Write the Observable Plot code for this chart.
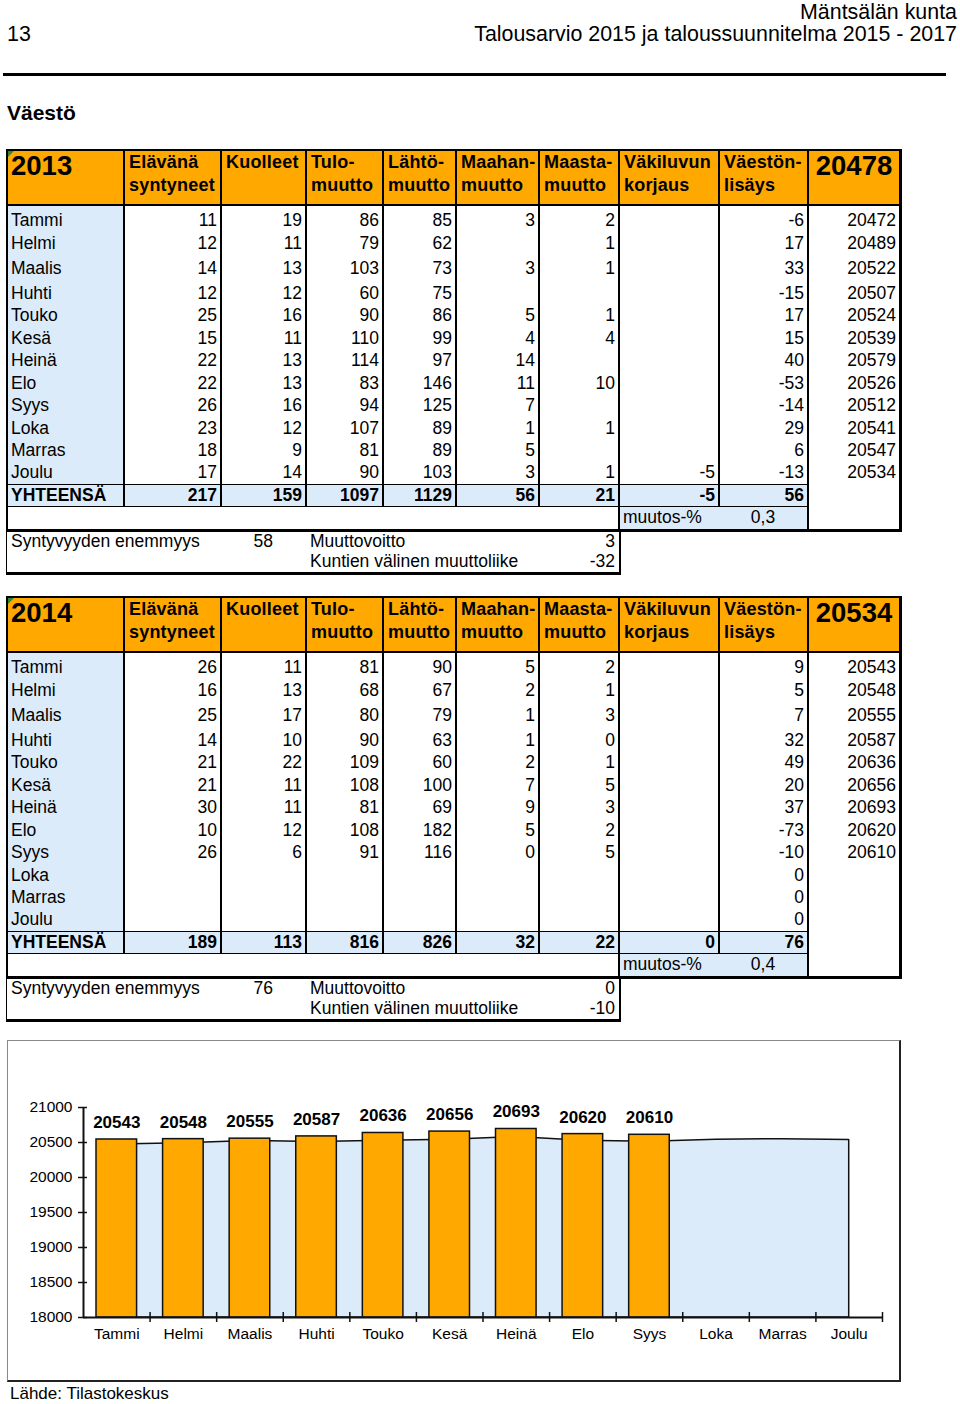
<!DOCTYPE html>
<html><head><meta charset="utf-8">
<script src="https://cdn.jsdelivr.net/npm/d3@7"></script>
<script src="https://cdn.jsdelivr.net/npm/@observablehq/plot@0.6"></script>
<style>
html,body{margin:0;padding:0;background:#fff;}
#page{position:relative;width:960px;height:1404px;overflow:hidden;font-family:"Liberation Sans",Arial,Helvetica,sans-serif;color:#000;}
.a{position:absolute;white-space:nowrap;}
</style></head>
<body><div id="page"></div>
<script>
// ---------- data ----------
const months = ["Tammi","Helmi","Maalis","Huhti","Touko","Kesä","Heinä","Elo","Syys","Loka","Marras","Joulu"];
const headers = [["Elävänä","syntyneet"],["Kuolleet"],["Tulo-","muutto"],["Lähtö-","muutto"],["Maahan-","muutto"],["Maasta-","muutto"],["Väkiluvun","korjaus"],["Väestön-","lisäys"]];

const births2013 = [11,12,14,12,25,15,22,22,26,23,18,17];
const deaths2013 = [19,11,13,12,16,11,13,13,16,12,9,14];
const inMig2013  = [86,79,103,60,90,110,114,83,94,107,81,90];
const outMig2013 = [85,62,73,75,86,99,97,146,125,89,89,103];
const immig2013  = [3,null,3,null,5,4,14,11,7,1,5,3];
const emig2013   = [2,1,1,null,1,4,null,10,null,1,null,1];
const corr2013   = [null,null,null,null,null,null,null,null,null,null,null,-5];
const growth2013 = [-6,17,33,-15,17,15,40,-53,-14,29,6,-13];
const pop2013    = [20472,20489,20522,20507,20524,20539,20579,20526,20512,20541,20547,20534];
const totals2013 = [217,159,1097,1129,56,21,-5,56];
const start2013 = 20478, change2013 = "0,3", natural2013 = 58, netMig2013 = 3, interMun2013 = -32;

const births2014 = [26,16,25,14,21,21,30,10,26];
const deaths2014 = [11,13,17,10,22,11,11,12,6];
const inMig2014  = [81,68,80,90,109,108,81,108,91];
const outMig2014 = [90,67,79,63,60,100,69,182,116];
const immig2014  = [5,2,1,1,2,7,9,5,0];
const emig2014   = [2,1,3,0,1,5,3,2,5];
const corr2014   = [];
const growth2014 = [9,5,7,32,49,20,37,-73,-10,0,0,0];
const pop2014    = [20543,20548,20555,20587,20636,20656,20693,20620,20610];
const totals2014 = [189,113,816,826,32,22,0,76];
const start2014 = 20534, change2014 = "0,4", natural2014 = 76, netMig2014 = 0, interMun2014 = -10;

const yTicks = [18000,18500,19000,19500,20000,20500,21000];

// ---------- helpers ----------
const page = document.getElementById("page");
function box(x, y, w, h, css) {
  const d = document.createElement("div");
  d.className = "a";
  d.style.cssText = `left:${x}px;top:${y}px;width:${w}px;height:${h}px;` + (css || "");
  page.appendChild(d); return d;
}
function txt(s, x, cy, opts = {}) {
  const fs = opts.size || 17.5;
  const d = document.createElement("div");
  d.className = "a";
  let css = `top:${cy - fs * 0.575}px;font-size:${fs}px;line-height:${fs * 1.15}px;`;
  if (opts.bold) css += "font-weight:bold;";
  if (opts.ls) css += `letter-spacing:${opts.ls}px;`;
  if (opts.align === "right") css += `right:${960 - x}px;text-align:right;`;
  else if (opts.align === "center") css += `left:${x - 100}px;width:200px;text-align:center;`;
  else css += `left:${x}px;`;
  d.style.cssText = css;
  d.textContent = s;
  page.appendChild(d); return d;
}
const ORANGE = "#ffa800", BLUE = "#dcebfa";

// ---------- page header ----------
txt("Mäntsälän kunta", 957, 12.5, {size: 21.4, align: "right"});
txt("13", 7, 34, {size: 21.4});
txt("Talousarvio 2015 ja taloussuunnitelma 2015 - 2017", 957, 34, {size: 21.4, align: "right"});
box(3, 73, 943, 3, "background:#000;");
txt("Väestö", 7, 113, {size: 21, bold: true});

// ---------- tables ----------
const X = [7,124,221,306,383,456,539,619,719,808,900];
const rowC = [70,93,118,143,165,188,210,233,255,278,300,322];

function table(y0, year, start, cols, totals, change, natural, netMig, interMun) {
  // backgrounds
  box(7, y0, 893, 55, `background:${ORANGE};`);
  box(7, y0 + 55, 117, 279, `background:${BLUE};`);
  box(7, y0 + 334, 801, 22, `background:${BLUE};`);
  box(619, y0 + 356, 189, 23, `background:${BLUE};`);
  // green comment marker
  box(8, y0 + 1, 0, 0, "border-top:6px solid #2e8b2e;border-right:6px solid transparent;");
  // lines
  for (let k = 1; k <= 8; k++) box(X[k] - 0.75, y0, 1.5, 356, "background:#000;");
  box(X[9] - 0.75, y0, 1.5, 379, "background:#000;");
  box(X[7] - 0.75, y0 + 356, 1.5, 23, "background:#000;");
  box(7, y0 + 54, 893, 2, "background:#000;");
  box(7, y0 + 333.5, 801, 1.5, "background:#000;");
  box(7, y0 + 355.5, 801, 1.5, "background:#000;");
  box(6, y0 - 1, 896, 383, "box-sizing:border-box;border:2px solid #000;border-right-width:3px;border-bottom-width:3px;");
  // sub table
  box(6, y0 + 380, 615, 45, "box-sizing:border-box;border-left:1.5px solid #000;border-right:2px solid #000;border-bottom:3px solid #000;");

  // header texts
  txt(year, 11, y0 + 16, {size: 27.5, bold: true});
  txt(String(start), 854, y0 + 16, {size: 27.5, bold: true, align: "center"});
  headers.forEach((h, k) => {
    h.forEach((line, j) => txt(line, X[k + 1] + 5, y0 + 12 + j * 23, {size: 18, bold: true, ls: 0.2}));
  });
  // month rows
  months.forEach((m, i) => {
    const cy = y0 + rowC[i];
    txt(m, 11, cy);
    cols.forEach((arr, k) => {
      const v = arr[i];
      if (v !== null && v !== undefined) txt(String(v), X[k + 2] - 4, cy, {align: "right"});
    });
  });
  // totals
  txt("YHTEENSÄ", 11, y0 + 345, {bold: true});
  totals.forEach((v, k) => txt(String(v), X[k + 2] - 4, y0 + 345, {bold: true, align: "right"}));
  txt("muutos-%", 623, y0 + 367);
  txt(change, 763, y0 + 367, {align: "center"});
  // sub table
  txt("Syntyvyyden enemmyys", 11, y0 + 391);
  txt(String(natural), 273, y0 + 391, {align: "right"});
  txt("Muuttovoitto", 310, y0 + 391);
  txt(String(netMig), 615, y0 + 391, {align: "right"});
  txt("Kuntien välinen muuttoliike", 310, y0 + 411);
  txt(String(interMun), 615, y0 + 411, {align: "right"});
}

table(150, "2013", start2013,
  [births2013, deaths2013, inMig2013, outMig2013, immig2013, emig2013, corr2013, growth2013, pop2013],
  totals2013, change2013, natural2013, netMig2013, interMun2013);
table(597, "2014", start2014,
  [births2014, deaths2014, inMig2014, outMig2014, immig2014, emig2014, corr2014, growth2014, pop2014],
  totals2014, change2014, natural2014, netMig2014, interMun2014);

// ---------- chart ----------
box(7, 1040, 894, 342, "box-sizing:border-box;border:1px solid #888;border-right:2px solid #222;border-bottom:2px solid #222;");

const bars = pop2014.map((v, i) => ({i, v}));
const area = pop2013.map((v, i) => ({i, v}));
const labels = months.map((m, i) => ({i, m}));

const chart = Plot.plot({
  width: 893, height: 341,
  marginLeft: 76, marginRight: 18, marginTop: 67, marginBottom: 64,
  x: {domain: [0, 12], axis: null},
  y: {domain: [18000, 21000], axis: null},
  style: {fontFamily: '"Liberation Sans", Arial, sans-serif', background: "transparent", overflow: "visible", color: "#000"},
  marks: [
    Plot.areaY(area, {x: d => d.i + 0.5, y1: 18000, y2: "v", fill: BLUE, stroke: "#111", strokeWidth: 1.5}),
    Plot.rectY(bars, {x1: "i", x2: d => d.i + 1, y1: 18000, y2: "v", insetLeft: 13, insetRight: 13, fill: ORANGE, stroke: "#111", strokeWidth: 1.5}),
    Plot.text(bars, {x: d => d.i + 0.5, y: "v", text: d => String(d.v), dy: -17, fontWeight: "bold", fontSize: 17}),
    Plot.ruleY([18000], {stroke: "#111", strokeWidth: 2}),
    Plot.ruleX([0], {y1: 18000, y2: 21000, stroke: "#111", strokeWidth: 2}),
    Plot.axisY({ticks: yTicks, label: null, tickSize: 9, dx: 4, tickPadding: 6, tickFormat: d => String(d), fontSize: 15.5, strokeWidth: 1.5, stroke: "#111"}),
    Plot.axisX({ticks: d3.range(1, 13), label: null, tickSize: 10, dy: -5, tickFormat: () => "", strokeWidth: 1.5, stroke: "#111"}),
    Plot.text(labels, {x: d => d.i + 0.5, y: 18000, text: "m", dy: 17, fontSize: 15.5})
  ]
});
chart.style.position = "absolute";
chart.style.left = "7px";
chart.style.top = "1040px";
page.appendChild(chart);

txt("Lähde: Tilastokeskus", 10, 1394, {size: 17});
</script>
</body></html>
